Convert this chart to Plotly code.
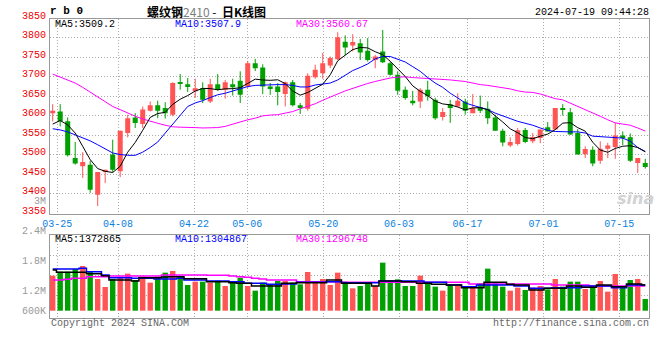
import plotly.graph_objects as go

# ---------------- data ----------------
opens = [3607, 3611, 3586, 3492, 3471, 3475, 3398, 3456, 3501, 3458,
         3556, 3596, 3579, 3613, 3627, 3620, 3603, 3686, 3681, 3663,
         3671, 3637, 3681, 3667, 3681, 3690, 3675, 3735, 3724, 3675,
         3675, 3656, 3686, 3627, 3618, 3699, 3709, 3729, 3745, 3790,
         3780, 3786, 3767, 3743, 3765, 3735, 3705, 3667, 3639, 3637,
         3667, 3641, 3597, 3630, 3624, 3637, 3607, 3622, 3618, 3596,
         3562, 3524, 3528, 3564, 3535, 3543, 3571, 3565, 3620, 3609,
         3556, 3502, 3513, 3485, 3516, 3520, 3550, 3545, 3479, 3479]
highs = [3630, 3630, 3596, 3533, 3507, 3485, 3456, 3462, 3539, 3562,
         3603, 3607, 3624, 3637, 3639, 3635, 3686, 3707, 3697, 3695,
         3686, 3695, 3707, 3692, 3695, 3714, 3741, 3746, 3732, 3684,
         3684, 3688, 3692, 3633, 3709, 3731, 3761, 3752, 3814, 3806,
         3809, 3797, 3799, 3756, 3820, 3739, 3714, 3675, 3664, 3671,
         3690, 3646, 3620, 3641, 3658, 3644, 3656, 3652, 3637, 3603,
         3567, 3545, 3569, 3569, 3556, 3565, 3584, 3620, 3630, 3620,
         3566, 3522, 3522, 3535, 3531, 3582, 3560, 3555, 3492, 3490]
lows = [3586, 3573, 3496, 3475, 3441, 3403, 3369, 3428, 3456, 3443,
        3545, 3569, 3569, 3611, 3594, 3593, 3599, 3667, 3661, 3646,
        3633, 3633, 3664, 3644, 3652, 3633, 3671, 3715, 3656, 3654,
        3627, 3624, 3624, 3605, 3613, 3695, 3695, 3722, 3743, 3755,
        3765, 3743, 3739, 3722, 3735, 3703, 3654, 3641, 3627, 3620,
        3639, 3590, 3588, 3582, 3624, 3603, 3607, 3607, 3579, 3562,
        3522, 3520, 3524, 3530, 3530, 3530, 3560, 3565, 3601, 3552,
        3501, 3492, 3471, 3477, 3492, 3490, 3525, 3482, 3454, 3465]
closes = [3613, 3586, 3499, 3478, 3482, 3411, 3456, 3462, 3462, 3562,
          3594, 3582, 3616, 3627, 3613, 3607, 3684, 3682, 3674, 3671,
          3641, 3681, 3667, 3686, 3673, 3654, 3735, 3722, 3675, 3669,
          3661, 3686, 3627, 3622, 3703, 3718, 3735, 3748, 3801, 3775,
          3789, 3762, 3743, 3752, 3737, 3705, 3664, 3646, 3632, 3667,
          3650, 3594, 3610, 3620, 3639, 3613, 3620, 3613, 3594, 3562,
          3532, 3533, 3563, 3533, 3546, 3565, 3560, 3620, 3616, 3552,
          3501, 3515, 3478, 3516, 3524, 3550, 3543, 3485, 3492, 3469]
volumes = [1506000, 1586000, 1586000, 1640000, 1700000, 1586000, 1440000, 1280000, 1440000, 1487000,
           1547000, 1420000, 1487000, 1367000, 1487000, 1567000, 1600000, 1500000, 1320000, 1387000,
           1387000, 1367000, 1407000, 1300000, 1400000, 1467000, 1300000, 1207000, 1367000, 1320000,
           1400000, 1400000, 1367000, 1333000, 1580000, 1400000, 1440000, 1320000, 1567000, 1387000,
           1253000, 1300000, 1353000, 1300000, 1767000, 1400000, 1433000, 1300000, 1300000, 1507000,
           1353000, 1287000, 1207000, 1320000, 1300000, 1267000, 1300000, 1353000, 1647000, 1353000,
           1287000, 1207000, 1267000, 1220000, 1267000, 1300000, 1233000, 1440000, 1287000, 1387000,
           1387000, 1240000, 1287000, 1400000, 1187000, 1540000, 1287000, 1420000, 1440000, 1040000]
ma5 = [3579, 3588, 3577, 3556, 3522, 3488, 3465, 3458, 3455, 3471,
       3507, 3532, 3563, 3596, 3606, 3609, 3629.4, 3642.6, 3652, 3663.6,
       3670.4, 3669.8, 3666.8, 3669.2, 3669.6, 3672.2, 3683, 3694, 3691.8, 3691,
       3692.4, 3682.6, 3663.6, 3653, 3659.8, 3671.2, 3681, 3705.2, 3741, 3755.4,
       3769.6, 3775, 3774, 3764.2, 3756.6, 3739.8, 3720.2, 3700.8, 3676.8, 3662.8,
       3651.8, 3637.8, 3630.6, 3628.2, 3622.6, 3615.2, 3620.4, 3621, 3615.8, 3600.4,
       3584.2, 3566.8, 3556.8, 3544.6, 3541.4, 3548, 3553.4, 3564.8, 3581.4, 3582.6,
       3569.8, 3560.8, 3532.4, 3512.4, 3506.8, 3516.6, 3522.2, 3523.6, 3518.8, 3507.8]
ma10 = [3567, 3564, 3559, 3552, 3545, 3536, 3526, 3516, 3505, 3501,
        3499, 3499, 3507, 3519, 3533, 3556, 3579, 3601, 3624, 3633,
        3639, 3647, 3654, 3658, 3664, 3669, 3675, 3678, 3679, 3679,
        3680, 3680, 3678, 3674, 3674, 3679, 3681, 3684, 3692, 3703,
        3716, 3724, 3733, 3746, 3752, 3752, 3746, 3738, 3726, 3714,
        3698, 3684, 3673, 3658, 3646, 3633, 3627, 3622, 3616, 3607,
        3599, 3593, 3586, 3581, 3576, 3569, 3563, 3560, 3559, 3559,
        3559, 3556, 3548, 3547, 3546, 3545, 3543, 3535, 3519, 3509]
ma30 = [3707, 3700, 3692, 3684, 3673, 3661, 3647, 3635, 3624, 3616,
        3607, 3599, 3592, 3586, 3581, 3576, 3572, 3571, 3571, 3570,
        3569, 3569, 3570, 3573, 3579, 3584, 3590, 3594, 3600, 3602,
        3603, 3607, 3611, 3618, 3624, 3631, 3640, 3647, 3656, 3664,
        3671, 3677, 3683, 3688, 3692, 3697, 3699, 3700, 3698, 3697,
        3696, 3695, 3693, 3692, 3690, 3688, 3684, 3680, 3678, 3675,
        3673, 3669, 3664, 3661, 3660, 3656, 3650, 3644, 3641, 3633,
        3624, 3616, 3607, 3599, 3590, 3582, 3579, 3576, 3569, 3561]
vol_ma5 = [1620000, 1573000, 1573000, 1573000, 1573000, 1547000, 1547000, 1507000, 1420000, 1420000,
           1420000, 1400000, 1467000, 1467000, 1467000, 1480000, 1487000, 1487000, 1447000, 1447000,
           1447000, 1387000, 1387000, 1387000, 1367000, 1353000, 1353000, 1300000, 1300000, 1300000,
           1300000, 1353000, 1353000, 1367000, 1367000, 1367000, 1367000, 1420000, 1420000, 1353000,
           1353000, 1353000, 1353000, 1300000, 1400000, 1400000, 1400000, 1387000, 1387000, 1353000,
           1353000, 1333000, 1333000, 1320000, 1320000, 1267000, 1267000, 1267000, 1373000, 1373000,
           1373000, 1333000, 1320000, 1320000, 1220000, 1220000, 1253000, 1253000, 1253000, 1300000,
           1300000, 1273000, 1273000, 1320000, 1320000, 1287000, 1287000, 1340000, 1340000, 1320000]
vol_ma10 = [1640000, 1640000, 1640000, 1640000, 1653000, 1587000, 1587000, 1520000, 1467000, 1467000,
            1467000, 1453000, 1453000, 1453000, 1440000, 1440000, 1440000, 1453000, 1420000, 1420000,
            1420000, 1400000, 1400000, 1400000, 1387000, 1387000, 1353000, 1353000, 1353000, 1333000,
            1333000, 1340000, 1340000, 1373000, 1373000, 1373000, 1373000, 1387000, 1387000, 1367000,
            1367000, 1367000, 1367000, 1367000, 1400000, 1400000, 1400000, 1400000, 1400000, 1400000,
            1373000, 1373000, 1373000, 1320000, 1320000, 1287000, 1287000, 1320000, 1320000, 1320000,
            1320000, 1320000, 1300000, 1300000, 1253000, 1253000, 1253000, 1267000, 1267000, 1267000,
            1267000, 1300000, 1300000, 1300000, 1300000, 1267000, 1267000, 1320000, 1320000, 1320000]
vol_ma30 = [1420000, 1420000, 1433000, 1453000, 1453000, 1487000, 1487000, 1487000, 1500000, 1500000,
            1500000, 1500000, 1500000, 1500000, 1500000, 1520000, 1520000, 1520000, 1520000, 1520000,
            1520000, 1513000, 1513000, 1513000, 1500000, 1487000, 1473000, 1453000, 1440000, 1420000,
            1420000, 1420000, 1420000, 1387000, 1387000, 1387000, 1387000, 1387000, 1387000, 1373000,
            1373000, 1373000, 1373000, 1373000, 1373000, 1373000, 1373000, 1373000, 1373000, 1373000,
            1373000, 1373000, 1373000, 1373000, 1373000, 1373000, 1340000, 1340000, 1340000, 1340000,
            1340000, 1340000, 1340000, 1340000, 1340000, 1340000, 1340000, 1320000, 1320000, 1320000,
            1320000, 1320000, 1300000, 1300000, 1300000, 1300000, 1300000, 1300000, 1300000, 1300000]

tick_index = [1, 9, 19, 26, 36, 46, 55, 65, 75]
tick_labels = ["03-25", "04-08", "04-22", "05-06", "05-20", "06-03", "06-17", "07-01", "07-15"]
price_ticks = [3350, 3400, 3450, 3500, 3550, 3600, 3650, 3700, 3750, 3800, 3850]
vol_tick_values = [3000000, 2400000, 1800000, 1200000, 600000]
vol_tick_labels = ["3M", "2.4M", "1.8M", "1.2M", "600K"]
price_ma_labels = ["MA5:3509.2", "MA10:3507.9", "MA30:3560.67"]
vol_ma_labels = ["MA5:1372865", "MA10:1304867", "MA30:1296748"]
title_code = "rb0"
title_name = "螺纹钢"
title_contract = "2410"
title_suffix = "日K线图"
timestamp = "2024-07-19 09:44:28"

# ---------------- styling / layout constants ----------------
RED = "#ff5555"
GREEN = "#00a000"
GRID = "#aaaaaa"
FRAME = "#999999"
BLUE_TXT = "#0a7fe0"
MONO = "Liberation Mono, DejaVu Sans Mono, monospace"
L, R, T, B = 50, 649, 19, 318
W, H = 660, 360
MAIN_BOTTOM = (B - 213.5) / (B - T)
VOL_TOP = (B - 234.7) / (B - T)
VOL_BASE = 806000
PRICE_RANGE = [3350, 3848]
VOL_RANGE = [660000, 2326000]


def px(x):
    return (x - L) / (R - L)


def py(y):
    return (B - y) / (B - T)


def price_to_paper(v):
    f = (v - PRICE_RANGE[0]) / (PRICE_RANGE[1] - PRICE_RANGE[0])
    return MAIN_BOTTOM + f * (1 - MAIN_BOTTOM)


def vol_to_paper(v):
    f = (v - VOL_RANGE[0]) / (VOL_RANGE[1] - VOL_RANGE[0])
    return f * VOL_TOP


n = len(closes)
idx = list(range(n))
up = [c >= o for o, c in zip(opens, closes)]
colors = [RED if u else GREEN for u in up]
# Sina places the date gridlines on a slightly wider pitch than the candles
tick_pos = [-0.4 + i * n / (n - 1) for i in tick_index]

fig = go.Figure()

# wicks
for flag, col in ((True, RED), (False, GREEN)):
    xs, ys = [], []
    for i in idx:
        if up[i] == flag:
            xs += [i, i, None]
            ys += [lows[i], highs[i], None]
    fig.add_trace(go.Scatter(x=xs, y=ys, mode="lines", line=dict(color=col, width=1),
                             xaxis="x", yaxis="y", hoverinfo="skip"))

# bodies
fig.add_trace(go.Bar(
    x=idx,
    y=[max(abs(c - o), 2.5) for o, c in zip(opens, closes)],
    base=[min(o, c) for o, c in zip(opens, closes)],
    width=0.67, marker=dict(color=colors, line=dict(width=0)),
    xaxis="x", yaxis="y", hoverinfo="skip"))

# price moving averages
for series, col in ((ma30, "#ff00ff"), (ma10, "#0000ff"), (ma5, "#000000")):
    fig.add_trace(go.Scatter(x=idx, y=series, mode="lines", line=dict(color=col, width=1),
                             xaxis="x", yaxis="y", hoverinfo="skip"))

# volume bars
fig.add_trace(go.Bar(
    x=idx, y=[v - VOL_BASE for v in volumes], base=VOL_BASE,
    width=0.72, marker=dict(color=colors, line=dict(width=0)),
    xaxis="x2", yaxis="y2", hoverinfo="skip"))

for series, col in ((vol_ma30, "#ff00ff"), (vol_ma10, "#0000ff"), (vol_ma5, "#000000")):
    fig.add_trace(go.Scatter(x=idx, y=series, mode="lines", line=dict(color=col, width=1.5, shape="hvh"),
                             xaxis="x2", yaxis="y2", hoverinfo="skip"))

ann = []


def add(text, x, y, color="#000000", xanchor="left", size=10, family=MONO, **kw):
    d = dict(text=text, x=x, y=y, xref="paper", yref="paper", xanchor=xanchor, yanchor="middle",
             showarrow=False, font=dict(family=family, size=size, color=color), borderpad=0)
    d.update(kw)
    ann.append(d)


# price labels (red), sitting 2px above their gridlines
for v in price_ticks:
    add(str(v), px(47), price_to_paper(v), color="#ee0000", xanchor="right", yshift=2)
# volume labels (grey); the lowest one is clamped inside the figure like Sina does
for v, t in zip(vol_tick_values, vol_tick_labels):
    add(t, px(47), vol_to_paper(v), color="#999999", xanchor="right",
        yshift=10 if v < VOL_RANGE[0] else 0)

# title row
add("<b>" + " ".join(title_code) + "</b>", px(49), py(11), size=11)
add("<b>" + title_name + "</b><span style='color:#808080'>" + title_contract + "</span> -\u00a0\u00a0<b>"
    + title_suffix + "</b>", px(206), py(11), xanchor="center", size=12,
    family="Noto Sans CJK SC, sans-serif")
add(timestamp, px(649.5), py(12), xanchor="right")

# MA legends
for t, x, col in zip(price_ma_labels, (53.5, 174, 294.5), ("#000000", "#0000ff", "#ff00ff")):
    add(t, px(x), py(24.5), color=col)
for t, x, col in zip(vol_ma_labels, (53.5, 174, 294.5), ("#000000", "#0000ff", "#ff00ff")):
    add(t, px(x), py(239), color=col)

# footer
add("Copyright 2024 SINA.COM", px(49.5), py(323.7), color="#666666")
add("http://finance.sina.com.cn", px(649.5), py(323.7), color="#666666", xanchor="right")

# watermark
add("<b><i>sina</i></b>", px(635), py(198), color="#d2d2d2", xanchor="center", size=16,
    family="DejaVu Sans, sans-serif")

axis_common = dict(showline=True, linecolor=FRAME, linewidth=1, mirror=True, zeroline=False,
                   showgrid=True, gridcolor=GRID, gridwidth=1, griddash="1px,2px", fixedrange=True)

fig.update_layout(
    width=W, height=H,
    margin=dict(l=L, r=W - R, t=T, b=H - B),
    paper_bgcolor="white", plot_bgcolor="white",
    showlegend=False, barmode="overlay", hovermode=False,
    annotations=ann,
    xaxis=dict(domain=[0, 1], range=[-0.36, 79.5], anchor="y", tickmode="array",
               tickvals=tick_pos, ticktext=tick_labels, ticks="",
               tickfont=dict(family=MONO, size=10, color=BLUE_TXT), **axis_common),
    xaxis2=dict(domain=[0, 1], range=[-0.36, 79.5], anchor="y2", matches="x", tickmode="array",
                tickvals=tick_pos, showticklabels=False, ticks="", **axis_common),
    yaxis=dict(domain=[MAIN_BOTTOM, 1], range=PRICE_RANGE, anchor="x", tickmode="array",
               tickvals=price_ticks[1:-1], showticklabels=False, ticks="", **axis_common),
    yaxis2=dict(domain=[0, VOL_TOP], range=VOL_RANGE, anchor="x2", tickmode="array",
                tickvals=[1120000, 1520000, 1920000], showticklabels=False, ticks="", **axis_common),
)

fig.write_html("out.html", config={"displayModeBar": False},
               post_script="document.body.style.margin='0px';document.body.style.padding='0px';")
